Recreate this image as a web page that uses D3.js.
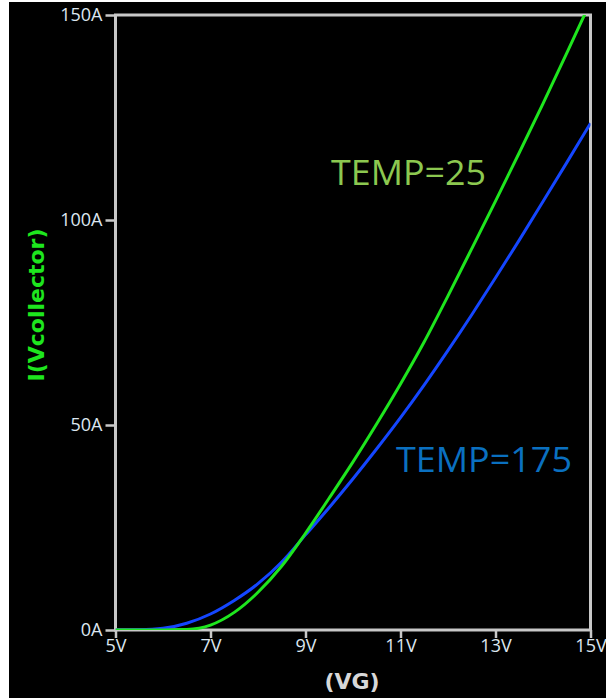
<!DOCTYPE html>
<html>
<head>
<meta charset="utf-8">
<script src="https://cdn.jsdelivr.net/npm/d3@7"></script>
<style>
  html, body { margin: 0; padding: 0; background: #ffffff; }
  svg { display: block; }
</style>
</head>
<body>
<svg id="chart" width="606" height="700"></svg>
<script>
// ---- data ----
const vg = [5, 5.5, 6, 6.5, 7, 7.5, 8, 8.5, 9, 9.5, 10, 10.5, 11, 11.5, 12, 12.5, 13, 13.5, 14, 14.5, 15];
const temp25 = [0, 0, 0, 0.12, 1.2, 4.3, 9.2, 15.6, 23.6, 32.2, 41.0, 50.3, 60.0, 70.3, 81.5, 93.0, 104.6, 116.4, 128.4, 140.7, 153.2];
const temp175 = [0, 0.05, 0.4, 1.65, 3.9, 7.2, 11.3, 16.6, 23.2, 29.9, 36.9, 44.2, 51.8, 59.8, 68.2, 76.9, 85.9, 95.1, 104.5, 114.0, 123.6];
const xTicks = [5, 7, 9, 11, 13, 15];
const xTickLabels = ["5V", "7V", "9V", "11V", "13V", "15V"];
const yTicks = [0, 50, 100, 150];
const yTickLabels = ["0A", "50A", "100A", "150A"];
const seriesNames = ["TEMP=25", "TEMP=175"];
const xTitle = "(VG)";
const yTitle = "I(Vcollector)";

const svg = d3.select("#chart");

// background
svg.append("rect").attr("x", 9).attr("y", 2).attr("width", 597).attr("height", 696).attr("fill", "#000");

const x = d3.scaleLinear().domain([5, 15]).range([115.5, 590.5]);
const y = d3.scaleLinear().domain([0, 150]).range([630, 15]);

const gridColor = "#c8c8c8";
const tickText = "#dce6f0";

// clip
svg.append("clipPath").attr("id", "clip")
  .append("rect").attr("x", x(5)).attr("y", y(150)).attr("width", x(15) - x(5)).attr("height", y(0) - y(150));

// axes
const xAxis = d3.axisBottom(x).tickValues(xTicks).tickFormat((d, i) => xTickLabels[i]).tickSize(8).tickSizeOuter(0);
const yAxis = d3.axisLeft(y).tickValues(yTicks).tickFormat((d, i) => yTickLabels[i]).tickSize(10).tickSizeOuter(0).tickPadding(3);

const gx = svg.append("g").attr("transform", `translate(0,${y(0)})`).call(xAxis);
const gy = svg.append("g").attr("transform", `translate(${x(5)},0)`).call(yAxis);
[gx, gy].forEach(g => {
  g.select(".domain").remove();
  g.selectAll(".tick line").attr("stroke", gridColor).attr("stroke-width", 2.5);
  g.selectAll(".tick text").attr("fill", tickText).attr("font-family", "'Open Sans', sans-serif").attr("font-size", 18);
});
gx.selectAll(".tick text").attr("dy", "0.9em").attr("y", 6);

// plot frame
svg.append("rect")
  .attr("x", x(5)).attr("y", y(150))
  .attr("width", x(15) - x(5)).attr("height", y(0) - y(150))
  .attr("fill", "none").attr("stroke", gridColor).attr("stroke-width", 3);

// lines
const line = d3.line().x(d => x(d[0])).y(d => y(d[1])).curve(d3.curveMonotoneX);
const plot = svg.append("g").attr("clip-path", "url(#clip)");
plot.append("path").datum(vg.map((v, i) => [v, temp175[i]]))
  .attr("d", line).attr("fill", "none").attr("stroke", "#1446ff").attr("stroke-width", 3);
plot.append("path").datum(vg.map((v, i) => [v, temp25[i]]))
  .attr("d", line).attr("fill", "none").attr("stroke", "#1ee61e").attr("stroke-width", 3);

// series labels
svg.append("text").attr("x", 331).attr("y", 185).text(seriesNames[0])
  .attr("fill", "#8cc850").attr("font-family", "'Open Sans', sans-serif").attr("font-size", 35)
  .attr("textLength", 155).attr("lengthAdjust", "spacingAndGlyphs");
svg.append("text").attr("x", 396).attr("y", 472).text(seriesNames[1])
  .attr("fill", "#0a70c0").attr("font-family", "'Open Sans', sans-serif").attr("font-size", 34)
  .attr("textLength", 176).attr("lengthAdjust", "spacingAndGlyphs");

// axis titles
svg.append("text").attr("x", 352).attr("y", 689).attr("text-anchor", "middle").text(xTitle)
  .attr("fill", "#d8d8d8").attr("font-family", "'DejaVu Sans', sans-serif").attr("font-weight", "bold").attr("font-size", 22);
svg.append("text").attr("transform", "translate(44,305) rotate(-90)").attr("text-anchor", "middle").text(yTitle)
  .attr("fill", "#1ee61e").attr("font-family", "'DejaVu Sans', sans-serif").attr("font-weight", "bold").attr("font-size", 22);
</script>
</body>
</html>
